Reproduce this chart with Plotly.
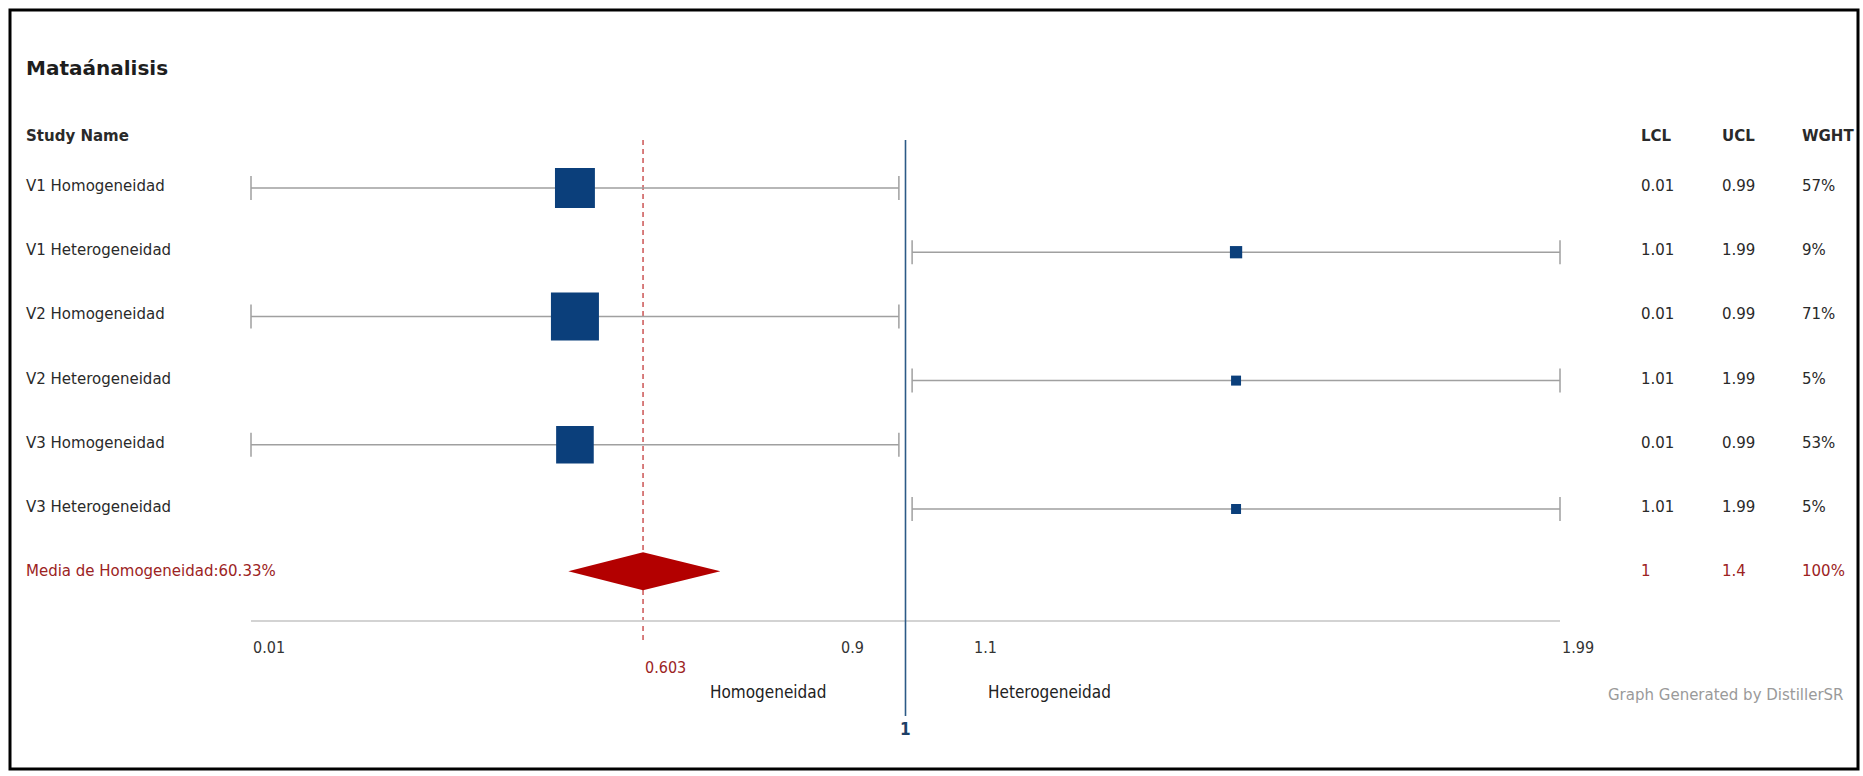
import plotly.graph_objects as go

# ---------------- data ----------------
studies = ["V1 Homogeneidad", "V1 Heterogeneidad", "V2 Homogeneidad",
           "V2 Heterogeneidad", "V3 Homogeneidad", "V3 Heterogeneidad"]
effect = [0.5, 1.5, 0.5, 1.5, 0.5, 1.5]
lcl = [0.01, 1.01, 0.01, 1.01, 0.01, 1.01]
ucl = [0.99, 1.99, 0.99, 1.99, 0.99, 1.99]
weights = [57, 9, 71, 5, 53, 5]
lcl_text = ["0.01", "1.01", "0.01", "1.01", "0.01", "1.01"]
ucl_text = ["0.99", "1.99", "0.99", "1.99", "0.99", "1.99"]

summary_label = "Media de Homogeneidad:60.33%"
summary_mean = 0.603
summary_lo = 0.49      # diamond left tip
summary_hi = 0.72      # diamond right tip
summary_cols = ["1", "1.4", "100%"]

tick_vals = [0.01, 0.9, 1.1, 1.99]
tick_text = ["0.01", "0.9", "1.1", "1.99"]
null_value = 1
null_text = "1"
mean_text = "0.603"

title = "Mataánalisis"
col_headers = ["LCL", "UCL", "WGHT"]
left_side = "Homogeneidad"
right_side = "Heterogeneidad"
credit = "Graph Generated by DistillerSR"

# ---------------- layout geometry (pixels) ----------------
W, H = 1863, 776
PX_LO, PX_HI = 251, 1560          # pixel span of axis from 0.01 to 1.99
ROW0, STEP = 188, 64.2            # pixel y of first row, row spacing
scale = (PX_HI - PX_LO) / (tick_vals[-1] - tick_vals[0])
x_range = [tick_vals[0] - PX_LO / scale, tick_vals[0] + (W - PX_LO) / scale]
y_range = [(H - ROW0) / STEP, -ROW0 / STEP]


def yd(px):  # pixel y -> data y
    return (px - ROW0) / STEP


def xp(px):  # pixel x -> paper x
    return px / W


def yp(px):  # pixel y -> paper y
    return 1 - px / H


NAVY = "#0b3f7b"
DRED = "#b30000"
TRED = "#9c2323"
BLUE = "#2c5a86"
TXT = "#2a2a2a"
BODY = "DejaVu Sans, Lato, sans-serif"
COND = "DejaVu Sans Condensed, Liberation Sans Narrow, DejaVu Sans, sans-serif"

rows = list(range(len(studies)))
sum_row = len(studies)

fig = go.Figure()

# study estimates with confidence intervals
fig.add_trace(go.Scatter(
    x=effect, y=rows, mode="markers",
    marker=dict(symbol="square", color=NAVY, opacity=1,
                size=[7.1 + 0.576 * w for w in weights], line=dict(width=0)),
    error_x=dict(type="data", symmetric=False,
                 array=[u - e for u, e in zip(ucl, effect)],
                 arrayminus=[e - l for e, l in zip(effect, lcl)],
                 color="#a0a0a0", thickness=1.5, width=12),
    hoverinfo="skip", showlegend=False))

# summary diamond
dh = 19 / STEP
yc = sum_row - 0.03
fig.add_trace(go.Scatter(
    x=[summary_lo, summary_mean, summary_hi, summary_mean, summary_lo],
    y=[yc, yc - dh, yc, yc + dh, yc],
    fill="toself", fillcolor=DRED, mode="lines", line=dict(width=0, color=DRED),
    hoverinfo="skip", showlegend=False))

shapes = []
# axis line
shapes.append(dict(type="line", xref="x", yref="y", x0=tick_vals[0], x1=tick_vals[-1],
                   y0=yd(621), y1=yd(621), line=dict(color="#d3d3d3", width=2)))
# mean dashed line
shapes.append(dict(type="line", xref="x", yref="y", x0=summary_mean, x1=summary_mean,
                   y0=yd(140), y1=yd(643), line=dict(color="#c43a3a", width=1.3, dash="5px,4px"),
                   layer="below"))
# null line
shapes.append(dict(type="line", xref="x", yref="y", x0=null_value, x1=null_value,
                   y0=yd(140), y1=yd(716), line=dict(color=BLUE, width=1.6)))
# frame
shapes.append(dict(type="rect", xref="paper", yref="paper", x0=xp(10), x1=xp(1858),
                   y0=yp(769), y1=yp(10), line=dict(color="black", width=3)))

ann = []


def add(text, x, y, xref="paper", yref="paper", size=15, color=TXT, family=BODY,
        xanchor="left", yanchor="middle", yshift=0):
    ann.append(dict(text=text, x=x, y=y, xref=xref, yref=yref, showarrow=False,
                    font=dict(size=size, color=color, family=family),
                    xanchor=xanchor, yanchor=yanchor, yshift=yshift))


add("<b>" + title + "</b>", xp(24), yp(68), size=20, color="#1e1e1e")
add("<b>Study Name</b>", xp(24), yp(136), size=15)
col_x = [1639, 1720, 1800]
for cx, h in zip(col_x, col_headers):
    add("<b>" + h + "</b>", xp(cx), yp(136), size=15)

for i, s in enumerate(studies):
    add(s, xp(24), i, yref="y", yshift=2)
    add(lcl_text[i], xp(col_x[0]), i, yref="y", yshift=2)
    add(ucl_text[i], xp(col_x[1]), i, yref="y", yshift=2)
    add(f"{weights[i]}%", xp(col_x[2]), i, yref="y", yshift=2)

add(summary_label, xp(24), sum_row, yref="y", yshift=2, color=TRED)
for cx, t in zip(col_x, summary_cols):
    add(t, xp(cx), sum_row, yref="y", yshift=2, color=TRED)

for tv, tt in zip(tick_vals, tick_text):
    add(tt, tv, yd(647), xref="x", yref="y", size=16, family=COND, color="#333")
add(mean_text, summary_mean, yd(667), xref="x", yref="y", size=16, family=COND, color=TRED)
add(left_side, xp(828), yp(692), size=17, family=COND, color="#222", xanchor="right")
add(right_side, xp(986), yp(692), size=17, family=COND, color="#222")
add("<b>" + null_text + "</b>", null_value, yd(729), xref="x", yref="y", size=17,
    family=COND, color="#1d3f66", xanchor="center")
add(credit, xp(1846), yp(695), size=15, color="#9a9a9a", xanchor="right")

fig.update_layout(
    width=W, height=H, margin=dict(l=0, r=0, t=0, b=0),
    paper_bgcolor="white", plot_bgcolor="white",
    xaxis=dict(range=x_range, visible=False, domain=[0, 1], fixedrange=True),
    yaxis=dict(range=y_range, visible=False, domain=[0, 1], fixedrange=True),
    shapes=shapes, annotations=ann, showlegend=False,
)

fig.write_html("out.html", config={"displayModeBar": False},
               post_script="document.body.style.margin='0';document.body.style.overflow='hidden';")
